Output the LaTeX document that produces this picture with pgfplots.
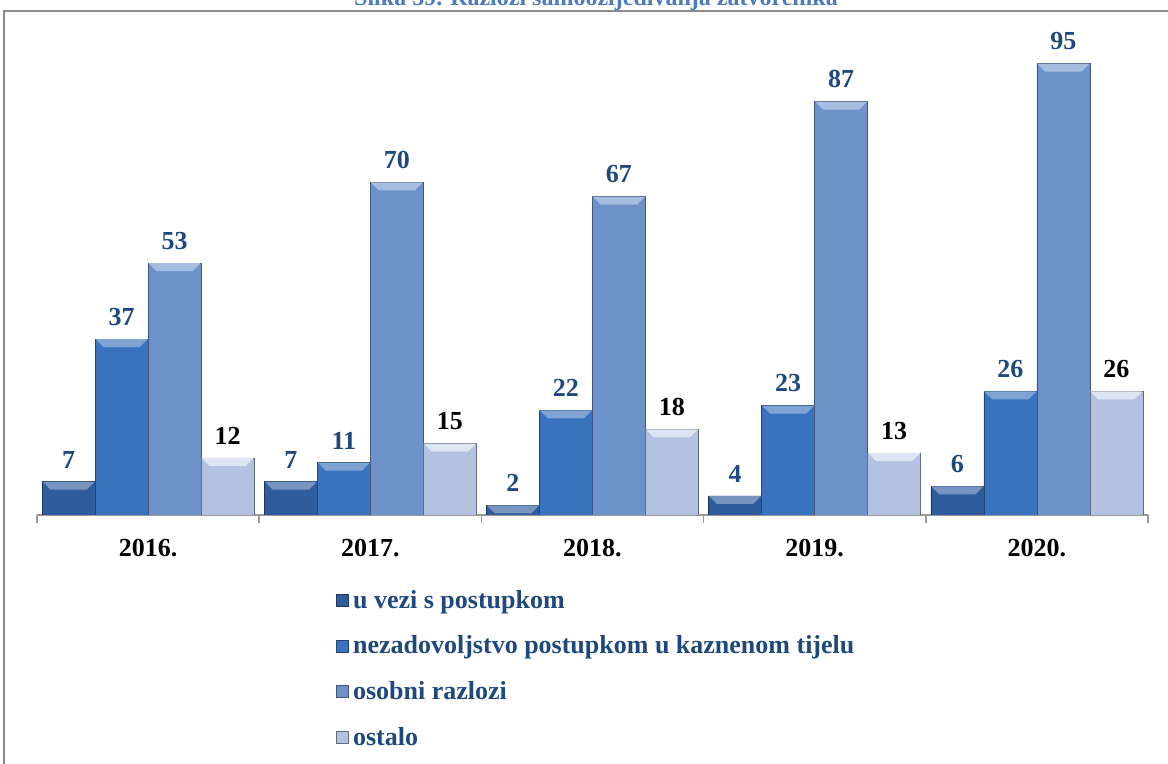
\documentclass[border=0pt]{standalone}
\usepackage{pgfplots}
\pgfplotsset{compat=1.18}
\usepackage{fontspec}
\setmainfont{Liberation Serif}
\definecolor{cA}{HTML}{2E5C9C}
\definecolor{cB}{HTML}{3A73BD}
\definecolor{cC}{HTML}{6D91C9}
\definecolor{cD}{HTML}{B3C2E1}
\definecolor{lblue}{HTML}{1F497D}
\definecolor{tblue}{HTML}{4F7BB8}
\pgfdeclareplotmark{bevel}{%
  \pgfpathmoveto{\pgfpoint{-26bp}{0bp}}%
  \pgfpathlineto{\pgfpoint{26bp}{0bp}}%
  \pgfpathlineto{\pgfpoint{18bp}{-8bp}}%
  \pgfpathlineto{\pgfpoint{-18bp}{-8bp}}%
  \pgfpathclose
  \pgfusepathqfill}
\begin{document}
\begin{tikzpicture}[x=1bp,y=1bp]
\useasboundingbox (0,0) rectangle (1168,764);
\draw[black!45, line width=2bp] (4,-50) -- (4,753) -- (1250,753);
\node[anchor=base, font=\fontsize{24bp}{28bp}\selectfont\bfseries, text=tblue, inner sep=0pt] at (596,758) {Slika 39. Razlozi samoozljeđivanja zatvorenika};
\begin{axis}[
  at={(37bp,249bp)}, anchor=south west,
  scale only axis, width=1111bp, height=475bp,
  ybar=0pt, bar width=53bp,
  xmin=-0.5, xmax=4.5, ymin=0, ymax=100,
  hide y axis,
  axis x line*=bottom,
  axis line style={black!40, line width=1.5bp},
  xtick={0,1,2,3,4},
  xticklabels={2016.,2017.,2018.,2019.,2020.},
  major tick length=0pt,
  xticklabel style={font=\fontsize{26bp}{30bp}\selectfont\bfseries, yshift=-21bp},
  extra x ticks={-0.5,0.5,1.5,2.5,3.5,4.5},
  extra x tick labels={},
  extra x tick style={major tick length=8bp, tick align=outside, tick style={black!40, line width=1.5bp}},
  /pgf/number format/assume math mode=true,
  nodes near coords,
  every node near coord/.append style={font=\fontsize{26bp}{30bp}\selectfont\bfseries, text=lblue, anchor=south, yshift=10bp},
  legend style={at={(0.266,-0.15)}, anchor=north west, draw=none, fill=none,
    font=\fontsize{26bp}{30bp}\selectfont\bfseries, text=lblue, row sep=22bp,
    /tikz/every odd column/.append style={column sep=3bp}},
  legend cell align=left,
  legend image code/.code={\path[#1, line width=0.4bp] (0bp,-6bp) rectangle (12bp,6bp);},
  mark=bevel,
]
\addplot[fill=cA, draw=cA!60!black, line width=0.6bp, mark options={fill=cA!65!white, draw=none, xshift=-79.5bp}, every node near coord/.append style={xshift=79.5bp}] coordinates {(0,7) (1,7) (2,2) (3,4) (4,6)};
\addplot[fill=cB, draw=cB!60!black, line width=0.6bp, mark options={fill=cB!65!white, draw=none, xshift=-26.5bp}, every node near coord/.append style={xshift=26.5bp}] coordinates {(0,37) (1,11) (2,22) (3,23) (4,26)};
\addplot[fill=cC, draw=cC!60!black, line width=0.6bp, mark options={fill=cC!60!white, draw=none, xshift=26.5bp}, every node near coord/.append style={xshift=-26.5bp}] coordinates {(0,53) (1,70) (2,67) (3,87) (4,95)};
\addplot[fill=cD, draw=cD!55!black, line width=0.6bp, mark options={fill=cD!45!white, draw=none, xshift=79.5bp}, every node near coord/.append style={text=black, xshift=-79.5bp}] coordinates {(0,12) (1,15) (2,18) (3,13) (4,26)};
\legend{u vezi s postupkom, nezadovoljstvo postupkom u kaznenom tijelu, osobni razlozi, ostalo}
\end{axis}
\end{tikzpicture}
\end{document}
